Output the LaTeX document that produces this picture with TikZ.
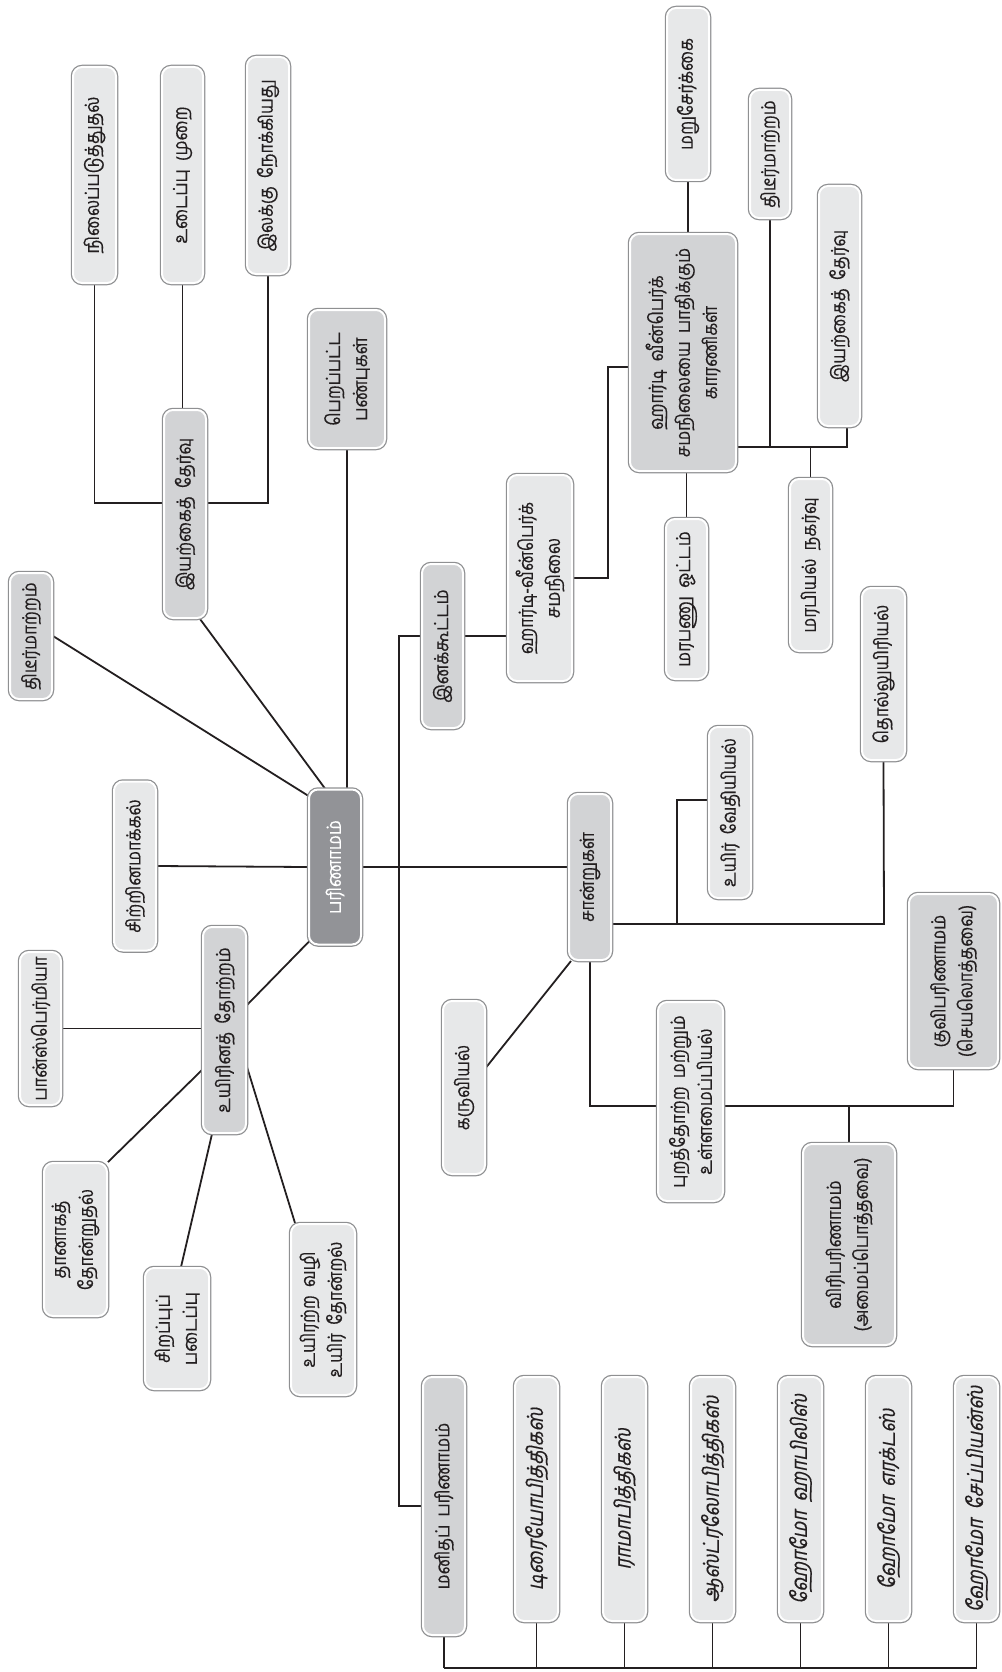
\documentclass[tikz,border=0pt]{standalone}
\usepackage{fontspec}
\newfontfamily\tamil[Script=Tamil,FakeStretch=0.86,FakeBold=0.4,WordSpace=2]{Hind Madurai}
\newfontfamily\tamilit[Script=Tamil,FakeStretch=0.86,FakeBold=0.4,FakeSlant=0.2,WordSpace=2]{Hind Madurai}
\usetikzlibrary{calc}
\pgfdeclarelayer{bg}
\pgfsetlayers{bg,main}
\definecolor{edgegray}{HTML}{8F9092}
\definecolor{lightfill}{HTML}{E7E8E9}
\definecolor{midfill}{HTML}{D2D3D5}
\definecolor{darkfill}{HTML}{929397}
\definecolor{ink}{HTML}{231F20}
\tikzset{
  box/.style={rotate=90, rounded corners=9pt, inner sep=2pt, align=center, text=ink,
    font=\tamil\fontsize{19.5}{27}\selectfont,
    preaction={draw=edgegray, line width=4.5pt}, draw=white, line width=2pt},
  wh/.style 2 args={minimum width={#2pt-4pt}, minimum height={#1pt-4pt}},
  light/.style={box, fill=lightfill},
  mid/.style={box, fill=midfill},
  core/.style={box, fill=darkfill, text=white},
  ital/.style={font=\tamilit\fontsize{22}{27}\selectfont},
  conn/.style={draw=ink, line width=1.8pt},
}
\begin{document}
\begin{tikzpicture}[x=1pt, y=-1pt]
\useasboundingbox (0,0) rectangle (1001,1672);

% central concept
\node[core, wh={56}{159}] (pari) at (335,867) {பரிணாமம்};

% natural selection branch (upper left)
\node[light, wh={47}{220}] (nilai) at (94.5,175) {நிலைப்படுத்துதல்};
\node[light, wh={45}{220}] (udaippu) at (182.5,175) {உடைப்பு முறை};
\node[light, wh={46}{221}] (ilakku) at (268,165.5) {இலக்கு நோக்கியது};
\node[mid, wh={46}{212}] (iyarkai1) at (185,514) {இயற்கைத் தேர்வு};
\node[mid, wh={80}{142}] (perappatta) at (347,379) {பெறப்பட்ட\\பண்புகள்};
\node[mid, wh={46}{130}] (thidir1) at (31,636) {திடீர்மாற்றம்};
\node[light, wh={46}{173}] (sirrinam) at (135,866) {சிற்றினமாக்கல்};

% origin of life branch (lower left)
\node[mid, wh={47}{210}] (uyirinam) at (224.5,1030) {உயிரினத் தோற்றம்};
\node[light, wh={45}{157}] (pans) at (40.5,1028.5) {பான்ஸ்பெர்மியா};
\node[light, wh={67}{157}] (thanaga) at (75.5,1239.5) {தானாகத்\\தோன்றுதல்};
\node[light, wh={68}{125}] (sirappu) at (177,1328.5) {சிறப்புப்\\படைப்பு};
\node[light, wh={68}{175}] (uyirarra) at (323,1309.5) {உயிரற்ற வழி\\உயிர் தோன்றல்};

% population genetics branch (upper right)
\node[mid, wh={45}{168}] (inak) at (442.5,646) {இனக்கூட்டம்};
\node[light, wh={68}{210}] (hardy) at (540,578) {ஹார்டி-வீன்பெர்க்\\சமநிலை};
\node[mid, wh={110}{241}] (factors) at (683,352.5) {ஹார்டி வீன்பெர்க்\\சமநிலையை பாதிக்கும்\\காரணிகள்};
\node[light, wh={46}{176}] (maru) at (688,94) {மறுசேர்க்கை};
\node[light, wh={44}{132}] (thidir2) at (770,154) {திடீர்மாற்றம்};
\node[light, wh={45}{244}] (iyarkai2) at (839.5,306) {இயற்கைத் தேர்வு};
\node[light, wh={45}{164}] (marabanu) at (686.5,599) {மரபணு ஓட்டம்};
\node[light, wh={45}{176}] (marabiyal) at (810.5,565) {மரபியல் நகர்வு};

% evidences branch (lower right)
\node[mid, wh={46}{170}] (saanru) at (590,877) {சான்றுகள்};
\node[light, wh={47}{176}] (thol) at (883.5,674) {தொல்லுயிரியல்};
\node[light, wh={46}{175}] (uyirved) at (730,812.5) {உயிர் வேதியியல்};
\node[light, wh={46}{177}] (karu) at (464,1087.5) {கருவியல்};
\node[light, wh={69}{203}] (purath) at (690.5,1101.5) {புறத்தோற்ற மற்றும்\\உள்ளமைப்பியல்};
\node[mid, wh={96}{205}] (viri) at (849,1244.5) {விரிபரிணாமம்\\(அமைப்பொத்தவை)};
\node[mid, wh={93}{178}] (kuvi) at (953.5,981) {குவிபரிணாமம்\\(செயலொத்தவை)};

% human evolution
\node[mid, wh={46}{262}] (manitha) at (444,1506) {மனிதப் பரிணாமம்};
\node[light, ital, wh={47}{248}] (h1) at (536.5,1499) {டிரையோபித்திகஸ்};
\node[light, ital, wh={47}{248}] (h2) at (624.5,1499) {ராமாபித்திகஸ்};
\node[light, ital, wh={47}{248}] (h3) at (712.5,1499) {ஆஸ்ட்ரலோபித்திகஸ்};
\node[light, ital, wh={47}{248}] (h4) at (800.5,1499) {ஹோமோ ஹாபிலிஸ்};
\node[light, ital, wh={47}{248}] (h5) at (888.5,1499) {ஹோமோ எரக்டஸ்};
\node[light, ital, wh={47}{248}] (h6) at (976.5,1499) {ஹோமோ சேப்பியன்ஸ்};

% junction points of the elbow connectors
\coordinate (jn) at (97,503);
\coordinate (jv) at (399,636);
\coordinate (jh) at (608,367);
\coordinate (jf) at (847,447);
\coordinate (js) at (884,924);
\coordinate (js2) at (677,800);
\coordinate (jk) at (590,1106);
\coordinate (jb) at (444,1668);

\begin{pgfonlayer}{bg}
  % natural selection
  \draw[conn] (nilai.west) -- (nilai.west |- jn) -- (ilakku.west |- jn) -- (ilakku.west);
  \draw[conn] (udaippu.west) -- (udaippu.west |- iyarkai1.east);
  \draw[conn] ($(iyarkai1.west)+(15,0)$) -- ($(pari.east)+(-10,0)$);
  \draw[conn] (perappatta.west) -- (perappatta.west |- pari.east);
  \draw[conn] (thidir1.south) -- ($(pari.north east)+(3,9)$);
  \draw[conn] (sirrinam.south) -- (pari.north);
  % origin of life
  \draw[conn] ($(pari.north west)+(3,-6)$) -- ($(uyirinam.south)+(0,-25)$);
  \draw[conn] (pans.south) -- (pans.south -| uyirinam.north);
  \draw[conn] (thanaga.south east) -- ($(uyirinam.north)+(0,40)$);
  \draw[conn] ($(sirappu.east)+(4,0)$) -- ($(uyirinam.west)+(-12.5,0)$);
  \draw[conn] ($(uyirinam.south)+(0,37)$) -- ($(uyirarra.east)+(-28,0)$);
  % population genetics and human evolution
  \draw[conn] (inak.north |- jv) -- (jv) -- (jv |- manitha.north) -- (manitha.north);
  \draw[conn] (inak.south |- jv) -- (hardy.north |- jv);
  \draw[conn] (hardy.south) -- (hardy.south -| jh) -- (jh) -- (jh -| factors.north);
  \draw[conn] (maru.west) -- (maru.west |- factors.east);
  \draw[conn] (factors.south |- jf) -- (jf) -- ($(iyarkai2.west)+(7.5,0)$);
  \draw[conn] (thidir2.west) -- (thidir2.west |- jf);
  \draw[conn] (marabiyal.east) -- (marabiyal.east |- jf);
  \draw[conn] (marabanu.east) -- (marabanu.east |- factors.west);
  % evidences
  \draw[conn] (pari.south) -- (pari.south -| saanru.north);
  \draw[conn] (saanru.south |- js) -- (js) -- (thol.west);
  \draw[conn] (js2 |- js) -- (js2) -- (js2 -| uyirved.north);
  \draw[conn] ($(karu.south)+(0,-20)$) -- ($(saanru.west)+(-19,0)$);
  \draw[conn] (saanru.west) -- (jk) -- (jk -| kuvi.west) -- (kuvi.west);
  \draw[conn] (viri.east) -- (viri.east |- jk);
  % human evolution sequence
  \draw[conn] (manitha.west |- jb) -- (h6.west |- jb);
  \foreach \n in {manitha,h1,h2,h3,h4,h5,h6}
    \draw[conn] (\n.west) -- (\n.west |- jb);
\end{pgfonlayer}
\end{tikzpicture}
\end{document}
